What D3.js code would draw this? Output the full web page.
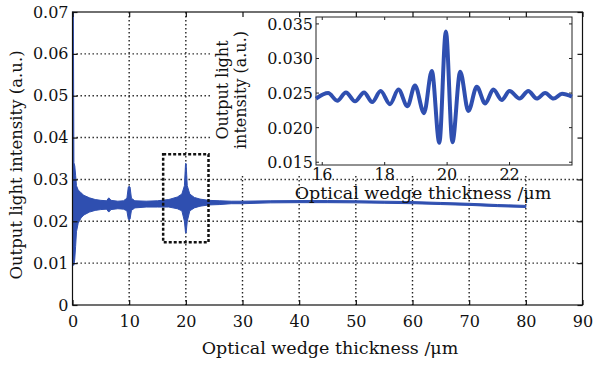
<!DOCTYPE html>
<html>
<head>
<meta charset="utf-8">
<script src="https://cdn.jsdelivr.net/npm/d3@7"></script>
<style>
  body { margin: 0; background: #fff; }
  text { font-family: "DejaVu Serif", serif; fill: #111; }
</style>
</head>
<body>
<svg id="chart" width="595" height="365"></svg>
<script>
// Main trace. The fringes are too dense to resolve at this size, so the
// trace is kept as its upper / lower envelope.
const traceX = [0, 0.05, 0.15, 0.25, 0.4, 0.55, 0.7, 1.0, 1.5, 2,
  3, 4, 5, 6, 6.4, 6.8, 8, 9, 9.6, 9.85,
  10.0, 10.15, 10.4, 11, 13, 15, 17, 18.5, 19.3, 19.75,
  19.95, 20.05, 20.25, 20.7, 21.5, 22.5, 24, 26, 28, 30,
  35, 40, 45, 50, 55, 60, 65, 70, 75, 80];
const traceHi = [0.070, 0.070, 0.070, 0.034, 0.0332, 0.031, 0.0285, 0.0275, 0.0268, 0.0262,
  0.0256, 0.0252, 0.0250, 0.0249, 0.0256, 0.0250, 0.0248, 0.0249, 0.0255, 0.0282,
  0.0284, 0.0282, 0.0255, 0.0249, 0.0248, 0.0249, 0.0252, 0.0258, 0.0265, 0.0285,
  0.0338, 0.0338, 0.0285, 0.0265, 0.0257, 0.0253, 0.0250, 0.0249, 0.0248, 0.0248,
  0.0249, 0.02495, 0.02495, 0.0249, 0.0248, 0.0247, 0.0245, 0.0243, 0.0240, 0.0238];
const traceLo = [0.022, 0.012, 0.0095, 0.0095, 0.011, 0.014, 0.0175, 0.0195, 0.0208, 0.0215,
  0.0222, 0.0226, 0.0228, 0.0229, 0.0222, 0.0228, 0.0230, 0.0229, 0.0225, 0.0205,
  0.0203, 0.0205, 0.0226, 0.0232, 0.0234, 0.0234, 0.0234, 0.0230, 0.0225, 0.0200,
  0.0172, 0.0172, 0.0200, 0.0225, 0.0232, 0.0236, 0.0239, 0.0240, 0.0242, 0.0242,
  0.0244, 0.02445, 0.02445, 0.0244, 0.0243, 0.0242, 0.0240, 0.0238, 0.0235, 0.0233];

// Inset: the fringe packet around 20 um, peaks and troughs
const insetX = [15.8, 16.19, 16.48, 16.76, 17.05, 17.34, 17.60, 17.87, 18.17, 18.44,
  18.73, 18.97, 19.26, 19.51, 19.75, 19.96, 20.17, 20.42, 20.68, 20.95,
  21.22, 21.48, 21.75, 22.0, 22.32, 22.60, 22.87, 23.14, 23.41, 23.68, 24.0];
const insetY = [0.0242, 0.0250, 0.0239, 0.0251, 0.0238, 0.0251, 0.0237, 0.0253, 0.0234, 0.0255,
  0.0231, 0.0261, 0.0221, 0.0282, 0.0178, 0.0339, 0.0179, 0.0281, 0.0224, 0.0259,
  0.0235, 0.0255, 0.0240, 0.0253, 0.0242, 0.0253, 0.0242, 0.0250, 0.0242, 0.0249, 0.0245];

const xTicks = [0, 10, 20, 30, 40, 50, 60, 70, 80, 90];
const yTicks = [0, 0.01, 0.02, 0.03, 0.04, 0.05, 0.06, 0.07];
const insetXTicks = [16, 18, 20, 22];
const insetYTicks = [0.015, 0.020, 0.025, 0.030, 0.035];
const zoomBox = { x0: 16, x1: 24, y0: 0.015, y1: 0.036 };

const BLUE = "#2f4fb0";
const plot = { left: 72.5, right: 582.5, top: 12, bottom: 305 };
const inset = { left: 316, right: 572, top: 17, bottom: 165 };

const svg = d3.select("#chart");

const x = d3.scaleLinear().domain([0, 90]).range([plot.left, plot.right]);
const y = d3.scaleLinear().domain([0, 0.07]).range([plot.bottom, plot.top]);
const ix = d3.scaleLinear().domain([15.8, 24]).range([inset.left, inset.right]);
const iy = d3.scaleLinear().domain([0.0146, 0.036]).range([inset.bottom, inset.top]);

// dotted grid
const grid = svg.append("g")
  .attr("stroke", "#222").attr("stroke-width", 1.4).attr("stroke-dasharray", "1.4,2.6");
grid.selectAll(".gx").data(xTicks.slice(1, -1)).join("line")
  .attr("x1", (d) => x(d)).attr("x2", (d) => x(d))
  .attr("y1", plot.top).attr("y2", plot.bottom);
grid.selectAll(".gy").data(yTicks.slice(1, -1)).join("line")
  .attr("x1", plot.left).attr("x2", plot.right)
  .attr("y1", (d) => y(d)).attr("y2", (d) => y(d));

// main trace envelope
const trace = traceX.map((v, i) => ({ x: v, hi: traceHi[i], lo: traceLo[i] }));
svg.append("path")
  .datum(trace)
  .attr("d", d3.area().x((d) => x(d.x)).y0((d) => y(d.lo)).y1((d) => y(d.hi)))
  .attr("fill", BLUE).attr("stroke", BLUE).attr("stroke-width", 1);

// dashed box marking the zoomed region
svg.append("rect")
  .attr("x", x(zoomBox.x0)).attr("y", y(zoomBox.y1))
  .attr("width", x(zoomBox.x1) - x(zoomBox.x0))
  .attr("height", y(zoomBox.y0) - y(zoomBox.y1))
  .attr("fill", "none").attr("stroke", "#111")
  .attr("stroke-width", 2.5).attr("stroke-dasharray", "3,2");

// ---- inset ----
svg.append("rect")
  .attr("x", 212).attr("y", plot.top)
  .attr("width", plot.right - 212).attr("height", 176 - plot.top)
  .attr("fill", "#fff");

svg.append("rect")
  .attr("x", inset.left).attr("y", inset.top)
  .attr("width", inset.right - inset.left).attr("height", inset.bottom - inset.top)
  .attr("fill", "#fff").attr("stroke", "#222").attr("stroke-width", 1);

const iTicks = svg.append("g").attr("stroke", "#222").attr("stroke-width", 1);
insetXTicks.forEach((t) => {
  iTicks.append("line").attr("x1", ix(t)).attr("x2", ix(t)).attr("y1", inset.bottom).attr("y2", inset.bottom - 3);
  iTicks.append("line").attr("x1", ix(t)).attr("x2", ix(t)).attr("y1", inset.top).attr("y2", inset.top + 3);
});
insetYTicks.forEach((t) => {
  iTicks.append("line").attr("x1", inset.left).attr("x2", inset.left + 3).attr("y1", iy(t)).attr("y2", iy(t));
  iTicks.append("line").attr("x1", inset.right).attr("x2", inset.right - 3).attr("y1", iy(t)).attr("y2", iy(t));
});

svg.append("path")
  .datum(insetX.map((v, i) => [v, insetY[i]]))
  .attr("d", d3.line().x((d) => ix(d[0])).y((d) => iy(d[1])).curve(d3.curveMonotoneX))
  .attr("fill", "none").attr("stroke", BLUE).attr("stroke-width", 4)
  .attr("stroke-linejoin", "round");

svg.append("g").selectAll("text").data(insetXTicks).join("text")
  .attr("x", (d) => ix(d)).attr("y", 180)
  .attr("text-anchor", "middle").attr("font-size", 16)
  .text((d) => d);
svg.append("g").selectAll("text").data(insetYTicks).join("text")
  .attr("x", inset.left - 3).attr("y", (d) => iy(d) + 6)
  .attr("text-anchor", "end").attr("font-size", 16)
  .text(d3.format(".3f"));

svg.append("text")
  .attr("x", 423).attr("y", 199)
  .attr("text-anchor", "middle").attr("font-size", 17.5)
  .text("Optical wedge thickness /μm");
svg.append("text")
  .attr("transform", "translate(228,90) rotate(-90)")
  .attr("text-anchor", "middle").attr("font-size", 16)
  .text("Output light");
svg.append("text")
  .attr("transform", "translate(246,90) rotate(-90)")
  .attr("text-anchor", "middle").attr("font-size", 16)
  .text("intensity (a.u.)");

// ---- main axes frame ----
svg.append("rect")
  .attr("x", plot.left).attr("y", plot.top)
  .attr("width", plot.right - plot.left).attr("height", plot.bottom - plot.top)
  .attr("fill", "none").attr("stroke", "#111").attr("stroke-width", 1.2);

const styleAxis = (g) => {
  g.select(".domain").remove();
  g.selectAll("line").attr("stroke", "#111").attr("stroke-width", 1.2);
  g.selectAll("text").attr("font-family", "DejaVu Serif, serif").attr("font-size", 16).attr("fill", "#111");
  g.attr("font-family", null).attr("font-size", null);
};

svg.append("g")
  .attr("transform", `translate(0,${plot.bottom})`)
  .call(d3.axisBottom(x).tickValues(xTicks).tickSize(-5).tickSizeOuter(0).tickPadding(11))
  .call(styleAxis);
svg.append("g")
  .attr("transform", `translate(0,${plot.top})`)
  .call(d3.axisTop(x).tickValues(xTicks).tickSize(-5).tickSizeOuter(0).tickFormat(""))
  .call(styleAxis);
svg.append("g")
  .attr("transform", `translate(${plot.left},0)`)
  .call(d3.axisLeft(y).tickValues(yTicks).tickSize(-5).tickSizeOuter(0).tickPadding(4)
    .tickFormat((d) => (d === 0 ? "0" : d3.format(".2f")(d))))
  .call(styleAxis);
svg.append("g")
  .attr("transform", `translate(${plot.right},0)`)
  .call(d3.axisRight(y).tickValues(yTicks).tickSize(-5).tickSizeOuter(0).tickFormat(""))
  .call(styleAxis);

svg.append("text")
  .attr("x", 330).attr("y", 354)
  .attr("text-anchor", "middle").attr("font-size", 17.5)
  .text("Optical wedge thickness /μm");
svg.append("text")
  .attr("transform", "translate(22,165) rotate(-90)")
  .attr("text-anchor", "middle").attr("font-size", 16.5)
  .text("Output light intensity (a.u.)");
</script>
</body>
</html>
